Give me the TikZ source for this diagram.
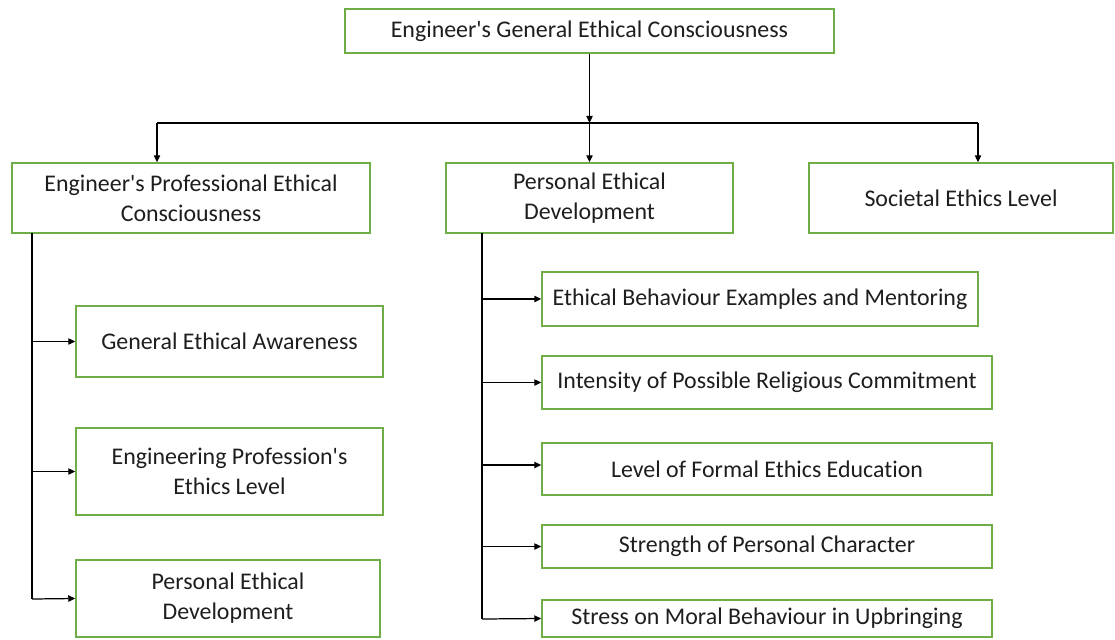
\documentclass[tikz,border=0pt]{standalone}
\usepackage{fontspec}
\setmainfont[Ligatures={NoCommon}]{Carlito}
\usetikzlibrary{arrows.meta}
\definecolor{boxgreen}{RGB}{112,173,71}
\definecolor{txt}{RGB}{30,30,30}
\def\pxu{0.02cm}
\newcommand{\ap}{\textquotesingle}
\begin{document}
\begin{tikzpicture}[x=0.02cm,y=-0.02cm,
  box/.style={draw=boxgreen,line width=0.8pt,fill=white,rectangle,inner sep=0pt,
    align=center,text=txt,font=\fontsize{13.6}{17}\selectfont},
  arr/.style={line width=0.7pt,-{Triangle[length=4pt,width=3.6pt]}},
  ln/.style={line width=0.7pt}]
\useasboundingbox (0,0) rectangle (1115,639);
% nodes
\node[box,minimum width=489*\pxu,minimum height=44*\pxu] (top) at (589.5,31) {Engineer\ap s General Ethical Consciousness};
\node[box,minimum width=358*\pxu,minimum height=70*\pxu] (prof) at (191,198) {Engineer\ap s Professional Ethical\\Consciousness};
\node[box,minimum width=287*\pxu,minimum height=70*\pxu] (ped) at (589.5,198) {Personal Ethical\\Development};
\node[box,minimum width=304*\pxu,minimum height=70*\pxu] (soc) at (961,198) {Societal Ethics Level};
\node[box,minimum width=307*\pxu,minimum height=71*\pxu] (gea) at (229.5,341.5) {General Ethical Awareness};
\node[box,minimum width=307*\pxu,minimum height=87*\pxu] (epel) at (229.5,471.5) {Engineering Profession\ap s\\Ethics Level};
\node[box,minimum width=304*\pxu,minimum height=77*\pxu] (ped2) at (228,598.5) {Personal Ethical\\Development};
\node[box,minimum width=436*\pxu,minimum height=54*\pxu] (ebem) at (760,299) {Ethical Behaviour Examples and Mentoring};
\node[box,minimum width=450*\pxu,minimum height=53*\pxu] (iprc) at (767,382.5) {Intensity of Possible Religious Commitment};
\node[box,minimum width=450*\pxu,minimum height=52*\pxu] (lfee) at (767,469) {Level of Formal Ethics Education};
\node[box,minimum width=450*\pxu,minimum height=43*\pxu] (spc) at (767,546.5) {Strength of Personal Character};
\node[box,minimum width=450*\pxu,minimum height=37*\pxu] (smbu) at (767,618.5) {Stress on Moral Behaviour in Upbringing};
% junction coordinates
\coordinate (hj) at (589.5,123);
\coordinate (hl) at (157,123);
\coordinate (hr) at (978,123);
\coordinate (lt) at (32,233);
\coordinate (lb) at (32,599);
\coordinate (rt) at (482,233);
\coordinate (rb) at (482,619);
% top connectors
\draw[arr] (top.south) -- (hj);
\draw[arr] (hj) -- (ped.north);
\draw[ln] (hl) -- (hr);
\draw[arr] (hl) -- (hl |- prof.north);
\draw[arr] (hr) -- (hr |- soc.north);
% left trunk
\draw[ln] (lt) -- (lb);
\draw[arr] (gea.west -| lt) -- (gea.west);
\draw[arr] (epel.west -| lt) -- (epel.west);
\draw[arr] (lb) -- (ped2.west);
% right trunk
\draw[ln] (rt) -- (rb);
\draw[arr] (ebem.west -| rt) -- (ebem.west);
\draw[arr] (iprc.west -| rt) -- (iprc.west);
\draw[arr] ([yshift=4*\pxu]lfee.west -| rt) -- ([yshift=4*\pxu]lfee.west);
\draw[arr] (spc.west -| rt) -- (spc.west);
\draw[arr] (rb) -- (smbu.west);
\end{tikzpicture}
\end{document}
